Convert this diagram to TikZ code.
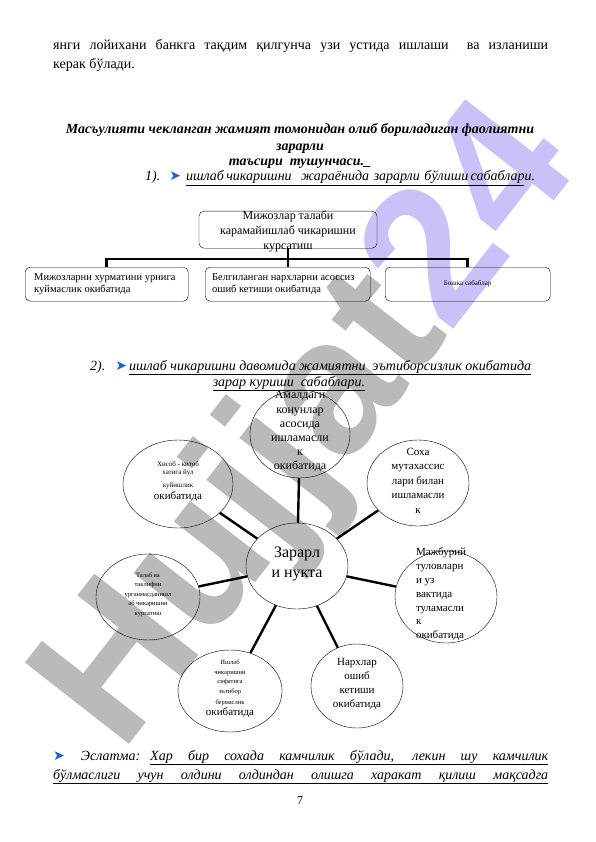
\documentclass[tikz,border=0pt]{standalone}
\usepackage{fontspec}
\setmainfont{Liberation Serif}
\newfontfamily\arrowfont{DejaVu Sans}
\newfontfamily\markfont{Liberation Sans}
\usetikzlibrary{shapes.geometric}
\definecolor{arrowblue}{RGB}{30,100,205}
\definecolor{markgray}{RGB}{186,186,186}
\definecolor{markviolet}{RGB}{204,192,248}
\newcommand{\bullarrow}{{\arrowfont\color{arrowblue}➤}}
\newcommand{\intext}[3][\centering]{\makebox[0pt]{\parbox[c][0pt][c]{#2}{#1#3}}}
\newcommand{\uline}[2][]{\underline{\ifx\relax#1\relax#2\else\makebox[#1][s]{#2}\fi}}

\begin{document}
\begin{tikzpicture}[x=1pt,y=-1pt,
    box/.style={draw,rounded corners=5pt,inner sep=0pt,minimum height=34pt},
    bubble/.style={draw,ellipse,inner sep=0pt,text height=0pt,text depth=0pt},
    bar/.style={line width=2.6pt},
    spoke/.style={line width=2.4pt},
    txt/.style={inner sep=0pt,anchor=base west},
    ctxt/.style={inner sep=0pt,anchor=base}]
            \useasboundingbox[fill=white] (0,0) rectangle (596,842);
            \node[rotate=52,font=\markfont\bfseries\fontsize{192}{192}\selectfont] (mark) at (312,430) {\textcolor{markgray}{Hujjat}\textcolor{markviolet}{24}};

            \node[txt,font=\fontsize{14}{19}\selectfont] (par1) at (53,50) {\makebox[495pt][s]{янги лойихани банкга тақдим қилгунча узи устида ишлаши \ ва изланиши}};
            \node[txt,font=\fontsize{14}{19}\selectfont] (par2) at (53,69) {керак бўлади.};

            \node[ctxt,font=\fontsize{14}{17}\selectfont\bfseries\itshape] (title1) at (300,134) {Масъулияти чекланган жамият томонидан олиб бориладиган фаолиятни};
            \node[ctxt,font=\fontsize{14}{17}\selectfont\bfseries\itshape] (title2) at (300,151) {зарарли};
            \node[ctxt,font=\fontsize{14}{17}\selectfont\bfseries\itshape] (title3) at (300,166) {таъсири \ тушунчаси.\_};
            \node[txt,font=\fontsize{14}{16}\selectfont\itshape] (head1) at (145,181) {1).\hspace{9pt}\bullarrow\hspace{5pt}\uline[338pt]{ишлаб чикаришни \ \ \ жараёнида \ зарарли \ бўлиши сабаблари.}};

            \node[box,minimum width=178pt,minimum height=37pt,anchor=north] (top) at (288,211) {\parbox[c][37pt][t]{178pt}{\centering\fontsize{12}{15}\selectfont Мижозлар талаби\\карамайишлаб чикаришни\\курсатиш}};
            \node[box,minimum width=163pt,anchor=north west] (b1) at (25,267) {\hspace{8pt}\parbox{153pt}{\fontsize{10.5}{12.5}\selectfont Мижозларни хурматини урнига\\куймаслик окибатида}};
            \node[box,minimum width=165pt,anchor=north west] (b2) at (205,267) {\hspace{6pt}\parbox{157pt}{\fontsize{10.5}{12.5}\selectfont Белгиланган нархларни асоссиз\\ошиб кетиши окибатида}};
            \node[box,minimum width=165pt,anchor=north west] (b3) at (385,267) {\fontsize{7}{8}\selectfont Бошка сабаблар};
            \coordinate (fork) at (288,259);
            \draw[bar] (top.south) -- (fork);
            \draw[bar] (b1.north) |- (fork) -| (b3.north);
            \draw[bar] (fork) -- (fork |- b2.north);

            \node[txt,font=\fontsize{14}{16}\selectfont\itshape] (head2) at (90,370) {2).\hspace{10pt}\bullarrow\hspace{2pt}\uline[402pt]{ишлаб чикаришни давомида жамиятни \ эътиборсизлик окибатида}};
            \node[ctxt,font=\fontsize{14}{16}\selectfont\itshape] (head2b) at (289,386) {\uline{зарар куриши \ сабаблари.}};

            \node[bubble,minimum width=100pt,minimum height=88pt] (law) at (300,434) {\intext{70pt}{\fontsize{12}{14.2}\selectfont Амалдаги\\конунлар\\асосида\\ишламасли\\к\\окибатида}};
            \node[bubble,minimum width=110pt,minimum height=88pt] (acct) at (178,484) {\intext{70pt}{\fontsize{7}{8}\selectfont Хисоб - китоб\\хатига йул\\[5pt]куйишлик\\[1pt]{\fontsize{11}{13}\selectfont окибатида}}};
            \node[bubble,minimum width=102pt,minimum height=86pt] (expert) at (418,483) {\intext{70pt}{\fontsize{11}{14.5}\selectfont Соха\\мутахассис\\лари билан\\ишламасли\\к}};
            \node[bubble,minimum width=102pt,minimum height=86pt] (core) at (297,566) {\intext{70pt}{\fontsize{16}{20}\selectfont Зарарл\\и нукта}};
            \node[bubble,minimum width=104pt,minimum height=86pt] (demand) at (148,597) {\intext{70pt}{\fontsize{6.5}{9.5}\selectfont Талаб ва\\таклифни\\урганмасданишл\\аб чикаришни\\курсатиш}};
            \node[bubble,minimum width=102pt,minimum height=92pt] (duty) at (446,597) {\intext[\raggedright]{60pt}{\fontsize{11}{13.8}\selectfont Мажбурий\\туловларн\\и уз\\вактида\\туламасли\\к\\окибатида}};
            \node[bubble,minimum width=104pt,minimum height=82pt] (quality) at (230,691) {\intext{70pt}{\fontsize{6.5}{9.5}\selectfont Ишлаб\\чикаришни\\сифатига\\эътибор\\[2pt]бермаслик\\[1pt]{\fontsize{11}{13}\selectfont окибатида}}};
            \node[bubble,minimum width=92pt,minimum height=84pt] (price) at (357,686) {\intext{70pt}{\fontsize{11}{14}\selectfont Нархлар\\ошиб\\кетиши\\окибатида}};
            \foreach \b in {law,acct,expert,demand,duty,quality,price}
              \draw[spoke] (core) -- (\b);

            \node[txt,font=\fontsize{14}{19}\selectfont] (note1) at (53,760) {\bullarrow\hspace{16pt}{\itshape Эслатма:}};
            \node[txt,font=\fontsize{14}{19}\selectfont\itshape] (note1b) at (150,760) {\uline[398pt]{Хар бир сохада камчилик бўлади, лекин шу камчилик}};
            \node[txt,font=\fontsize{14}{19}\selectfont\itshape] (note2) at (53,779) {\uline[495pt]{бўлмаслиги учун олдини олдиндан олишга харакат қилиш мақсадга}};
            \node[ctxt,font=\fontsize{12}{14}\selectfont] (pagenum) at (300,804) {7};
        \end{tikzpicture}
\end{document}
